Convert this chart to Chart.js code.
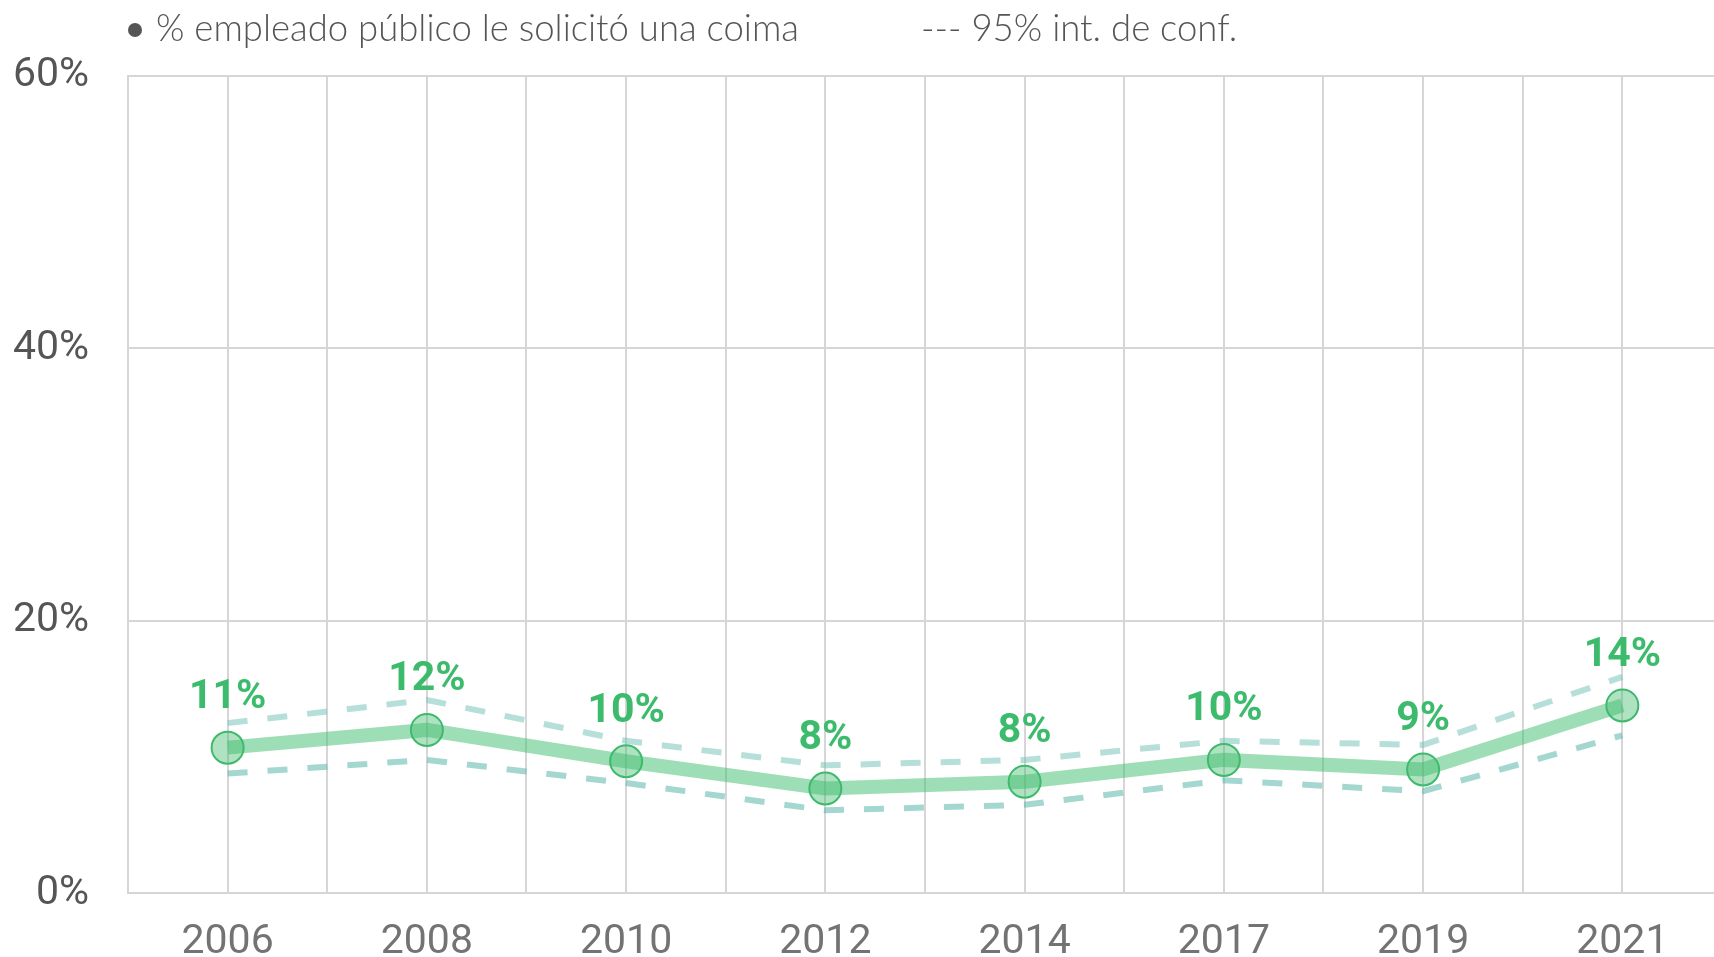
<!DOCTYPE html>
<html>
<head>
<meta charset="utf-8">
<script src="https://cdn.jsdelivr.net/npm/chart.js@4"></script>
<style>
  body { margin: 0; background: #fff; }
  #wrap { width: 1714px; height: 957px; position: relative; }
</style>
</head>
<body>
<div id="wrap"><canvas id="coimaChart"></canvas></div>
<script>
// años de la encuesta y porcentajes
const years = ['2006', '2008', '2010', '2012', '2014', '2017', '2019', '2021'];
const pct = [10.7, 12.0, 9.7, 7.7, 8.2, 9.8, 9.1, 13.8];
const upper = [12.5, 14.2, 11.2, 9.4, 9.8, 11.2, 10.9, 15.9];
const lower = [8.8, 9.8, 8.1, 6.1, 6.5, 8.3, 7.5, 11.6];
const pctLabels = ['11%', '12%', '10%', '8%', '8%', '10%', '9%', '14%'];
const yTicks = [0, 20, 40, 60];

// cada año cae en un valor impar del eje x, así hay grilla entre años
const toPoints = arr => arr.map((v, i) => ({ x: 2 * i + 1, y: v }));

// leyenda dibujada arriba del gráfico
const legendPlugin = {
    id: 'topLegend',
    afterDraw(chart) {
        const ctx = chart.ctx;
        ctx.save();
        ctx.fillStyle = '#555';
        ctx.beginPath();
        ctx.arc(135, 30, 7, 0, Math.PI * 2);
        ctx.fill();
        ctx.font = '300 36.5px Lato';
        ctx.textBaseline = 'middle';
        ctx.textAlign = 'left';
        ctx.fillText('% empleado público le solicitó una coima', 156, 29);
        ctx.fillText('--- 95% int. de conf.', 921, 29);
        ctx.restore();
    }
};

// etiquetas verdes sobre cada punto
const valueLabels = {
    id: 'valueLabels',
    afterDatasetsDraw(chart) {
        const ctx = chart.ctx;
        const meta = chart.getDatasetMeta(0);
        ctx.save();
        ctx.fillStyle = '#3dbb6d';
        ctx.font = 'bold 41px Roboto';
        ctx.textAlign = 'center';
        ctx.textBaseline = 'middle';
        meta.data.forEach((pt, i) => {
            ctx.fillText(pctLabels[i], pt.x, pt.y - 50);
        });
        ctx.restore();
    }
};

const ctx = document.getElementById('coimaChart').getContext('2d');
new Chart(ctx, {
    type: 'line',
    data: {
        datasets: [{
            label: '% empleado público le solicitó una coima',
            data: toPoints(pct),
            borderColor: 'rgba(61, 190, 110, 0.5)',
            borderWidth: 14,
            pointRadius: 16,
            pointBackgroundColor: 'rgba(61, 186, 107, 0.42)',
            pointBorderColor: '#3dba6c',
            pointBorderWidth: 2,
            order: 0
        }, {
            label: 'sup',
            data: toPoints(upper),
            borderColor: 'rgba(110, 192, 182, 0.5)',
            borderWidth: 6,
            borderDash: [20, 20],
            pointRadius: 0,
            order: 1
        }, {
            label: 'inf',
            data: toPoints(lower),
            borderColor: 'rgba(90, 182, 170, 0.55)',
            borderWidth: 6,
            borderDash: [20, 20],
            pointRadius: 0,
            order: 2
        }]
    },
    options: {
        responsive: true,
        maintainAspectRatio: false,
        animation: false,
        layout: { autoPadding: false, padding: { top: 76, right: 0, left: 0, bottom: 0 } },
        plugins: {
            legend: { display: false },
            tooltip: { enabled: false }
        },
        scales: {
            x: {
                type: 'linear',
                min: 0,
                max: 15.92,
                afterBuildTicks(scale) {
                    const t = [];
                    for (let v = 0; v <= 15; v++) t.push({ value: v });
                    scale.ticks = t;
                },
                afterFit(scale) { scale.height = 63; },
                grid: { color: '#d6d6d6', lineWidth: 2, drawTicks: false },
                border: { color: '#d6d6d6', width: 2 },
                ticks: {
                    autoSkip: false,
                    maxRotation: 0,
                    padding: 25,
                    color: '#737373',
                    font: { family: 'Roboto', size: 41 },
                    callback: v => (v % 2 === 1 ? years[(v - 1) / 2] : '')
                }
            },
            y: {
                min: 0,
                max: 60,
                afterBuildTicks(scale) {
                    scale.ticks = yTicks.map(v => ({ value: v }));
                },
                afterFit(scale) { scale.width = 128; },
                grid: { color: '#d6d6d6', lineWidth: 2, drawTicks: false },
                border: { color: '#d6d6d6', width: 2 },
                ticks: {
                    padding: 39,
                    color: '#555',
                    font: { family: 'Roboto', size: 41 },
                    callback: v => v + '%'
                }
            }
        }
    },
    plugins: [legendPlugin, valueLabels]
});
</script>
</body>
</html>
